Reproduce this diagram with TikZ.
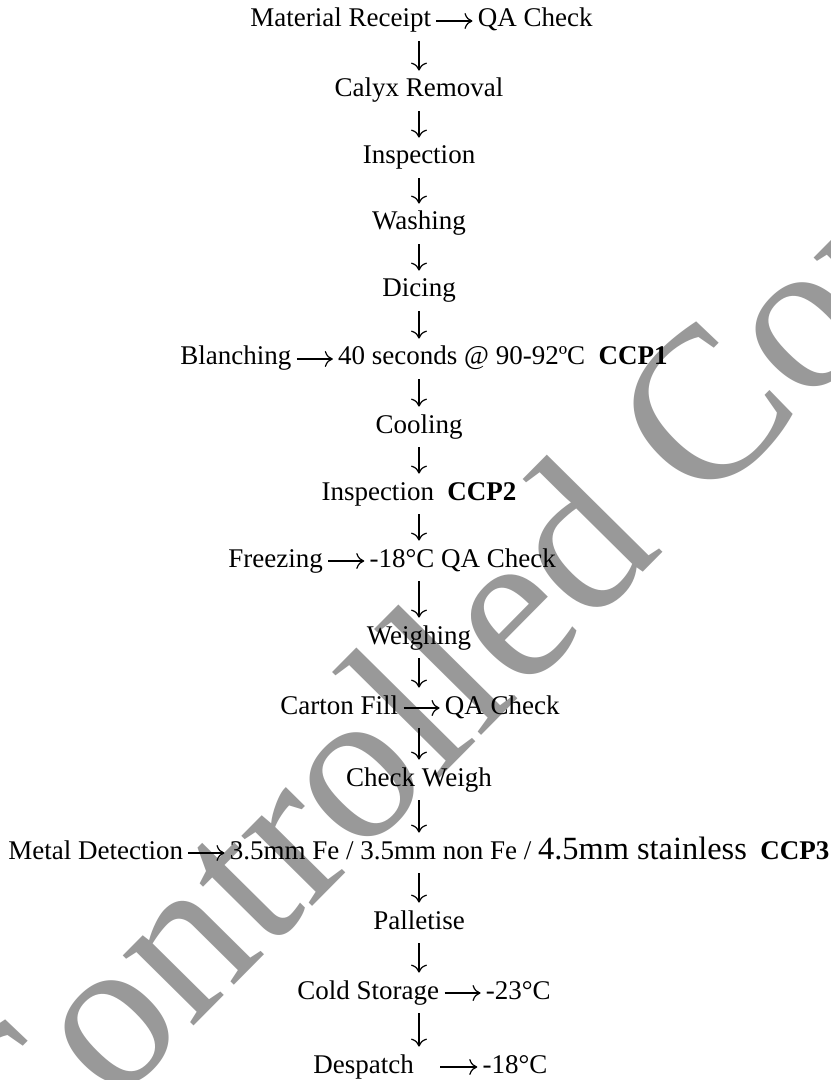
\documentclass[tikz,border=0pt]{standalone}
\usepackage{fontspec}
\setmainfont{Liberation Serif}
\usetikzlibrary{arrows.meta,positioning}

\begin{document}
\begin{tikzpicture}[
  x=0.5pt, y=-0.5pt,
  font=\fontsize{13.5}{16}\selectfont,
  stepbox/.style={inner xsep=0pt, inner ysep=0pt, text height=0.7em, text depth=0.1em,
                  minimum height=20pt},
  note/.style={stepbox, right=23pt of #1},
  wmark/.style={text=black!40, font=\fontsize{108.5}{108.5}\selectfont, inner sep=0pt,
                rotate=45.3, anchor=base west},
  darr/.style={-{Computer Modern Rightarrow[length=4pt,width=8pt]}, line width=0.6pt},
  sarr/.style={darr, shorten <=2.5pt, shorten >=2.5pt}
]
\useasboundingbox (0,0) rectangle (830,1080);
\fill[white] (0,0) rectangle (830,1080);

% watermark behind the chart
\begin{scope}
\clip (0,0) rectangle (830,1080);
\node[wmark] (wm) at (12,1210) {Controlled Copy};
\end{scope}

\coordinate (spine) at (419,0);

\node[stepbox, anchor=west] (receipt) at (250,21) {Material Receipt};
\node[note=receipt] (receiptqa) {QA Check};
\node[stepbox] (calyx) at (419,91) {Calyx Removal};
\node[stepbox] (inspect) at (419,158) {Inspection};
\node[stepbox] (washing) at (419,224) {Washing};
\node[stepbox] (dicing) at (419,291) {Dicing};
\node[stepbox, anchor=west] (blanch) at (180,359) {Blanching};
\node[note=blanch] (blanchnote) {40 seconds @ 90-92ºC\hspace{0.5em}\textbf{CCP1}};
\node[stepbox] (cooling) at (419,427) {Cooling};
\node[stepbox] (inspectcc) at (419,494) {Inspection\hspace{0.5em}\textbf{CCP2}};
\node[stepbox, anchor=west] (freeze) at (228,561) {Freezing};
\node[note=freeze] (freezenote) {-18°C QA Check};
\node[stepbox] (weigh) at (419,638) {Weighing};
\node[stepbox, anchor=west] (carton) at (280,708) {Carton Fill};
\node[note=carton] (cartonqa) {QA Check};
\node[stepbox] (checkweigh) at (419,780) {Check Weigh};
\node[stepbox, anchor=west] (metal) at (8,853) {Metal Detection};
\node[note=metal] (metalnote) {3.5mm Fe / 3.5mm non Fe / {\fontsize{16.2}{18}\selectfont 4.5mm stainless}\hspace{0.5em}\textbf{CCP3}};
\node[stepbox] (pallet) at (419,923) {Palletise};
\node[stepbox, anchor=west] (store) at (297,993) {Cold Storage};
\node[note=store] (storenote) {-23°C};
\node[stepbox, anchor=west] (despatch) at (313,1067) {Despatch};
\node[stepbox, right=34pt of despatch] (despatchnote) {-18°C};

% flow
\draw[darr] (receipt.south -| spine) -- (calyx.north -| spine);
\draw[darr] (calyx.south -| spine) -- (inspect.north -| spine);
\draw[darr] (inspect.south -| spine) -- (washing.north -| spine);
\draw[darr] (washing.south -| spine) -- (dicing.north -| spine);
\draw[darr] (dicing.south -| spine) -- (blanch.north -| spine);
\draw[darr] (blanch.south -| spine) -- (cooling.north -| spine);
\draw[darr] (cooling.south -| spine) -- (inspectcc.north -| spine);
\draw[darr] (inspectcc.south -| spine) -- (freeze.north -| spine);
\draw[darr] (freeze.south -| spine) -- (weigh.north -| spine);
\draw[darr] (weigh.south -| spine) -- (carton.north -| spine);
\draw[darr] (carton.south -| spine) -- (checkweigh.north -| spine);
\draw[darr] (checkweigh.south -| spine) -- (metal.north -| spine);
\draw[darr] (metal.south -| spine) -- (pallet.north -| spine);
\draw[darr] (pallet.south -| spine) -- (store.north -| spine);
\draw[darr] (store.south -| spine) -- (despatch.north -| spine);

% side checks
\draw[sarr] (receipt) -- (receiptqa);
\draw[sarr] (blanch) -- (blanchnote);
\draw[sarr] (freeze) -- (freezenote);
\draw[sarr] (carton) -- (cartonqa);
\draw[sarr] (metal) -- (metalnote);
\draw[sarr] (store) -- (storenote);
\draw[sarr, shorten <=13pt] (despatch) -- (despatchnote);
\end{tikzpicture}
\end{document}
